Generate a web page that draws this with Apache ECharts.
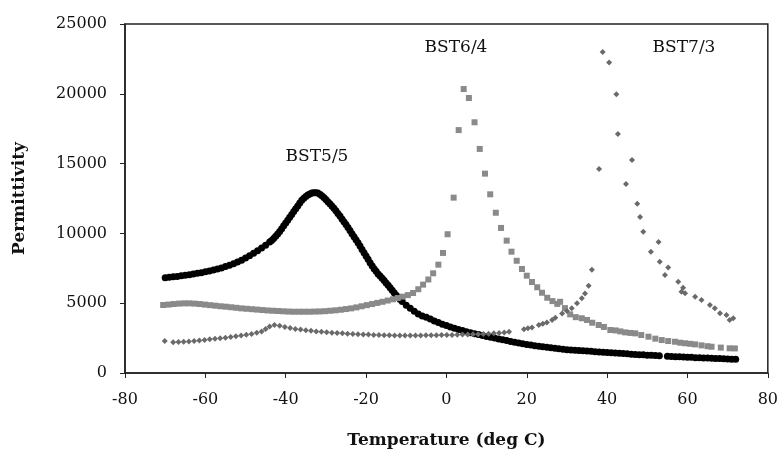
<!DOCTYPE html>
<html lang="en">

<head>
    <meta charset="UTF-8">
    <title>Permittivity vs Temperature</title>
    <script src="https://cdn.jsdelivr.net/npm/echarts@6.0.0/dist/echarts.min.js"></script>
    <style>
        html, body { margin: 0; padding: 0; background: #fff; }
    </style>
</head>

<body>
    <div id="main" style="width: 781px;height:454px;"></div>

    <script>
        // tick labels of the axes
        let xTicks = [-80, -60, -40, -20, 0, 20, 40, 60, 80];
        let yTicks = [0, 5000, 10000, 15000, 20000, 25000];

        // BST5/5 (black circles), whole degrees
        let t55 = [-70, -69, -68, -67, -66, -65, -64, -63, -62, -61, -60, -59, -58, -57, -56, -55, -54, -53, -52, -51,
            -50, -49, -48, -47, -46, -45, -44, -43, -42, -41, -40, -39, -38, -37, -36, -35, -34, -33, -32, -31,
            -30, -29, -28, -27, -26, -25, -24, -23, -22, -21, -20, -19, -18, -17, -16, -15, -14, -13, -12, -11,
            -10, -9, -8, -7, -6, -5, -4, -3, -2, -1, 0, 1, 2, 3, 4, 5, 6, 7, 8, 9,
            10, 11, 12, 13, 14, 15, 16, 17, 18, 19, 20, 21, 22, 23, 24, 25, 26, 27, 28, 29,
            30, 31, 32, 33, 34, 35, 36, 37, 38, 39, 40, 41, 42, 43, 44, 45, 46, 47, 48, 49,
            50, 51, 52, 53, 55, 56, 57, 58, 59, 60, 61, 62, 63, 64, 65, 66, 67, 68, 69, 70, 71, 72];
        let v55 = [6830, 6860, 6890, 6920, 6960, 7000, 7040, 7090, 7140, 7190, 7250, 7310, 7380, 7450, 7530, 7620, 7720, 7830, 7950, 8080,
            8230, 8400, 8580, 8760, 8950, 9150, 9380, 9640, 9950, 10330, 10740, 11150, 11560, 11970, 12370, 12650, 12830, 12920, 12900, 12700,
            12420, 12120, 11800, 11430, 11040, 10630, 10200, 9760, 9330, 8850, 8380, 7900, 7460, 7100, 6780, 6450, 6100, 5750, 5400, 5120,
            4860, 4630, 4420, 4230, 4090, 4000, 3860, 3730, 3610, 3500, 3400, 3300, 3210, 3120, 3040, 2960, 2890, 2820, 2750, 2690,
            2620, 2560, 2500, 2440, 2380, 2320, 2260, 2200, 2150, 2100, 2050, 2000, 1960, 1920, 1880, 1840, 1800, 1770, 1730, 1700,
            1670, 1650, 1630, 1610, 1590, 1570, 1550, 1530, 1510, 1490, 1470, 1450, 1430, 1410, 1390, 1370, 1350, 1330, 1310, 1300,
            1280, 1270, 1250, 1240, 1200, 1190, 1170, 1160, 1150, 1130, 1120, 1100, 1090, 1080, 1070, 1050, 1040, 1030, 1020, 1000, 990, 980];
        // BST5/5, extra readings on the steep part of the peak
        let t55Peak = [-43.5, -42.5, -41.5, -40.5, -39.5, -38.5, -37.5, -36.5, -35.5, -34.5, -33.5, -32.5, -31.5, -30.5,
            -29.5, -28.5, -27.5, -26.5, -25.5, -24.5, -23.5, -22.5, -21.5, -20.5, -19.5, -18.5, -17.5, -16.5, -15.5,
            -14.5, -13.5, -12.5, -11.5];
        let v55Peak = [9500, 9790, 10130, 10540, 10950, 11360, 11770, 12170, 12520, 12750, 12890, 12920, 12810, 12570,
            12270, 11960, 11620, 11240, 10840, 10420, 9980, 9550, 9090, 8620, 8140, 7680, 7280, 6940, 6620,
            6280, 5920, 5570, 5260];

        // BST6/4 (grey squares)
        let t64 = [-70.5, -69.2, -67.9, -66.6, -65.3, -64, -62.7, -61.4, -60.1, -58.8, -57.5, -56.2, -54.9, -53.6, -52.3, -51,
            -49.7, -48.4, -47.1, -45.8, -44.5, -43.2, -41.9, -40.6, -39.3, -38, -36.7, -35.4, -34.1, -32.8, -31.5, -30.2,
            -28.9, -27.6, -26.3, -25, -23.7, -22.4, -21.1, -19.8, -18.5, -17.2, -15.9, -14.6, -13.3, -12.1, -10.9, -9.6,
            -8.3, -7, -5.8, -4.5, -3.3, -2, -0.85, 0.3, 1.8, 3.05, 4.3, 5.6, 7, 8.3, 9.6, 10.9, 12.3, 13.6, 15, 16.2,
            17.5, 18.8, 20, 21.3, 22.6, 23.8, 25.1, 26.4, 27.6, 28.3, 29.5, 30.8, 32.2, 33.7, 35, 36.3, 37.9, 39.2,
            40.8, 42.1, 43.3, 44.5, 45.8, 47, 48.5, 50.3, 52, 53.6, 55.2, 56.9, 58.2, 59.4, 60.7, 61.9, 63.5, 65, 66,
            68.3, 70.5, 71.8];
        let v64 = [4870, 4900, 4940, 4970, 4990, 4990, 4970, 4940, 4900, 4860, 4820, 4780, 4750, 4710, 4670, 4630,
            4600, 4570, 4540, 4510, 4480, 4460, 4440, 4420, 4400, 4390, 4390, 4390, 4390, 4400, 4410, 4430,
            4460, 4490, 4530, 4580, 4630, 4700, 4780, 4860, 4940, 5020, 5100, 5190, 5280, 5370, 5470, 5580,
            5730, 6000, 6330, 6700, 7140, 7760, 8600, 9940, 12560, 17400, 20340, 19700, 17960, 16050, 14280, 12800, 11480, 10390, 9480, 8690,
            8040, 7450, 6970, 6520, 6140, 5750, 5390, 5150, 4950, 5100, 4650, 4200, 4000, 3920, 3800, 3600, 3440, 3300,
            3080, 3050, 2980, 2910, 2870, 2840, 2720, 2600, 2460, 2360, 2290, 2240, 2170, 2130, 2090, 2050, 1980, 1920, 1880,
            1820, 1770, 1760];

        // BST7/3 (grey diamonds)
        let t73 = [-70.1, -68, -66.7, -65.4, -64.1, -62.8, -61.5, -60.2, -58.9, -57.6, -56.3, -55, -53.7, -52.4, -51.1,
            -49.8, -48.5, -47.2, -46, -45, -44, -42.8, -41.5, -40.2, -38.9, -37.6, -36.3, -35, -33.7, -32.4, -31.1,
            -29.8, -28.5, -27.2, -25.9, -24.6, -23.3, -22, -20.7, -19.4, -18.1, -16.8, -15.5, -14.2, -12.9, -11.6,
            -10.3, -9, -7.7, -6.4, -5.1, -3.8, -2.5, -1.2, 0.1, 1.4, 2.7, 4, 5.3, 6.6, 7.9, 9.2, 10.5, 11.8, 13.1,
            14.4, 15.6, 19.3, 20.3, 21.3, 23, 24, 25, 26.3, 27.1, 28.8, 30, 31.2, 32.5, 33.7, 34.5, 35.4, 36.2,
            38, 38.9, 40.5, 42.3, 42.7, 44.7, 46.2, 47.5, 48.2, 49, 50.9, 52.8, 53.1, 54.4, 55.2, 57.7, 58.5, 58.9,
            59.4, 61.9, 63.5, 65.6, 66.8, 68.1, 69.7, 70.5, 71.4];
        let v73 = [2290, 2200, 2220, 2240, 2260, 2290, 2320, 2360, 2410, 2450, 2490, 2530, 2580, 2630, 2680,
            2740, 2800, 2880, 2980, 3150, 3330, 3440, 3380, 3290, 3220, 3160, 3110, 3060, 3020, 2980, 2950,
            2920, 2890, 2860, 2840, 2820, 2800, 2780, 2760, 2750, 2730, 2720, 2710, 2700, 2690, 2680,
            2680, 2680, 2690, 2690, 2700, 2700, 2710, 2720, 2730, 2730, 2740, 2750, 2760, 2770, 2780, 2800, 2820, 2840, 2870,
            2900, 2950, 3130, 3200, 3260, 3430, 3520, 3620, 3800, 3950, 4270, 4450, 4640, 4990, 5350, 5700, 6250, 7400,
            14610, 22990, 22250, 19960, 17120, 13540, 15260, 12130, 11170, 10120, 8690, 9380, 7970, 7020, 7560, 6540, 5820, 6100,
            5710, 5470, 5230, 4870, 4630, 4280, 4155, 3800, 3920];

        // series labels
        let seriesNames = ['BST5/5', 'BST6/4', 'BST7/3'];

        function pairs(xs, ys) {
            let out = [];
            for (let i = 0; i < xs.length; i++) {
                out.push([xs[i], ys[i]]);
            }
            return out;
        }

        var myChart = echarts.init(document.getElementById('main'));

        var serif = 'DejaVu Serif';
        var axisLabelStyle = { fontFamily: serif, fontSize: 16, color: '#111', formatter: function (v) { return String(v); } };
        var labelFont = '17px "DejaVu Serif"';

        var option = {
            backgroundColor: '#fff',
            animation: false,
            grid: {
                left: 125, right: 11, top: 24, bottom: 81,
                show: true,
                borderColor: '#222',
                borderWidth: 1.5
            },
            xAxis: {
                type: 'value',
                min: xTicks[0],
                max: xTicks[xTicks.length - 1],
                interval: 20,
                name: 'Temperature (deg C)',
                nameLocation: 'middle',
                nameGap: 59,
                nameTextStyle: { fontFamily: serif, fontSize: 17, fontWeight: 'bold', color: '#111' },
                axisLine: { show: true, onZero: false, lineStyle: { color: '#222', width: 1.5 } },
                axisTick: { show: true, length: 5, lineStyle: { color: '#222' } },
                splitLine: { show: false },
                axisLabel: Object.assign({ margin: 19 }, axisLabelStyle)
            },
            yAxis: {
                type: 'value',
                min: yTicks[0],
                max: yTicks[yTicks.length - 1],
                interval: 5000,
                name: 'Permittivity',
                nameLocation: 'middle',
                nameGap: 97,
                nameRotate: 90,
                nameTextStyle: { fontFamily: serif, fontSize: 17, fontWeight: 'bold', color: '#111' },
                axisLine: { show: true, onZero: false, lineStyle: { color: '#222', width: 1.5 } },
                axisTick: { show: true, length: 5, lineStyle: { color: '#222' } },
                splitLine: { show: false },
                axisLabel: Object.assign({ margin: 18 }, axisLabelStyle)
            },
            graphic: [
                { type: 'text', x: 317, y: 157, style: { text: seriesNames[0], font: labelFont, fill: '#111', textAlign: 'center', textVerticalAlign: 'middle' } },
                { type: 'text', x: 456, y: 48, style: { text: seriesNames[1], font: labelFont, fill: '#111', textAlign: 'center', textVerticalAlign: 'middle' } },
                { type: 'text', x: 684, y: 48, style: { text: seriesNames[2], font: labelFont, fill: '#111', textAlign: 'center', textVerticalAlign: 'middle' } }
            ],
            series: [
                {
                    name: seriesNames[0],
                    type: 'scatter',
                    symbol: 'circle',
                    symbolSize: 7,
                    itemStyle: { color: '#000', opacity: 1 },
                    data: pairs(t55.concat(t55Peak), v55.concat(v55Peak))
                },
                {
                    name: seriesNames[1],
                    type: 'scatter',
                    symbol: 'rect',
                    symbolSize: 6,
                    itemStyle: { color: '#8a8a8a', opacity: 1 },
                    data: pairs(t64, v64)
                },
                {
                    name: seriesNames[2],
                    type: 'scatter',
                    symbol: 'diamond',
                    symbolSize: 6,
                    itemStyle: { color: '#6a6a6a', opacity: 1 },
                    data: pairs(t73, v73)
                }
            ]
        };

        myChart.setOption(option);
    </script>
</body>

</html>
